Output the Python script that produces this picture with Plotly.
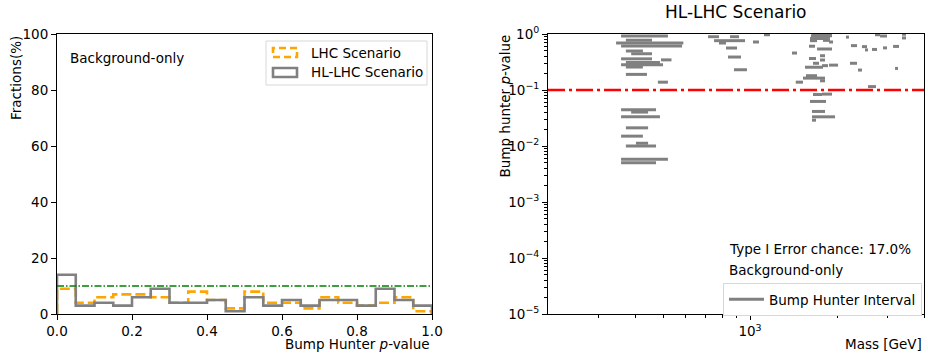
import plotly.graph_objects as go

# ---------------- data ----------------
bin_edges = [round(0.05 * i, 2) for i in range(21)]
lhc_frac = [9, 4, 6, 7, 7, 6, 4, 8, 5, 2, 8, 4, 4, 2, 6, 4, 3, 4, 6, 1]
hllhc_frac = [14, 3, 4, 3, 6, 9, 4, 4, 5, 1, 6, 3, 5, 3, 5, 5, 3, 9, 5, 3]
ref_fraction = 10

# Bump hunter intervals: (mass low, mass high) in GeV and p-value
int_lo = [358, 372, 344, 358, 372, 388, 358, 492, 372, 358, 372, 372, 480,
          358, 388, 358, 372, 358, 403, 372, 358, 358,
          716, 853, 1118, 751, 781, 1024, 826, 839, 880,
          1639, 1625, 1652, 1613, 1613, 1789, 1877, 2148, 2707, 2818, 3357, 3357,
          1600, 1706, 2236, 2440, 2500, 2643, 2886, 3126, 1397, 1747, 1600, 1747,
          1652, 1877, 2218, 1775, 1550, 3176, 2364, 1562, 1525, 1747, 1440, 2561,
          1652, 1775, 1613, 1639, 1639, 1639]
int_hi = [520, 458, 588, 582, 426, 458, 458, 535, 488, 500, 426, 440, 520,
          473, 444, 488, 444, 426, 444, 473, 520, 473,
          781, 916, 1173, 961, 826, 1074, 902, 931, 976,
          1922, 1922, 1892, 1862, 1706, 1892, 1938, 2200, 2818, 2979, 3466, 3466,
          1679, 1922, 2345, 2540, 2561, 2751, 2979, 3278, 1454, 1818, 1692, 1818,
          1733, 2017, 2345, 1862, 1789, 3252, 2440, 1706, 1818, 1818, 1525, 2729,
          1775, 1922, 1832, 1818, 1969, 1692]
int_p = [0.921, 0.775, 0.690, 0.610, 0.497, 0.444, 0.360, 0.345, 0.310, 0.282, 0.257, 0.190, 0.138,
         0.0442, 0.0403, 0.0332, 0.0211, 0.0150, 0.0112, 0.0100, 0.0058, 0.0050,
         0.895, 0.895, 0.97, 0.76, 0.69, 0.72, 0.562, 0.388, 0.230,
         0.99, 0.93, 0.87, 0.83, 0.76, 0.77, 0.72, 0.88, 0.97, 0.92, 0.99, 0.85,
         0.605, 0.54, 0.62, 0.595, 0.52, 0.53, 0.565, 0.60, 0.457, 0.409, 0.365, 0.343,
         0.30, 0.278, 0.30, 0.272, 0.255, 0.243, 0.227, 0.180, 0.163, 0.146, 0.138, 0.115,
         0.083, 0.0845, 0.0625, 0.0414, 0.0332, 0.0289]
p_threshold = 0.1
mass_range = [200, 4000]

y_ticks_left = [0, 20, 40, 60, 80, 100]
x_ticks_left = [0.0, 0.2, 0.4, 0.6, 0.8, 1.0]
y_ticks_right = [1e-5, 1e-4, 1e-3, 1e-2, 1e-1, 1]
y_ticklabels_right = ["10<sup>−5</sup>", "10<sup>−4</sup>", "10<sup>−3</sup>",
                      "10<sup>−2</sup>", "10<sup>−1</sup>", "10<sup>0</sup>"]
legend_labels = ["LHC Scenario", "HL-LHC Scenario"]

# ---------------- figure ----------------
W, H = 928, 361
FONT = "DejaVu Sans"
FS = 13.5
LHC_LINE = dict(color="orange", width=2.6, dash="10px,4px")
HL_LINE = dict(color="gray", width=2.6)
fig = go.Figure()


def px(x):
    return x / W


def py(y):
    return (H - y) / H


def step_xy(edges, vals):
    xs = [edges[0]] + edges[:-1] + [edges[-1], edges[-1]]
    ys = [0] + vals + [vals[-1], 0]
    return xs, ys


xs, ys = step_xy(bin_edges, lhc_frac)
fig.add_trace(go.Scatter(x=xs, y=ys, mode="lines", line_shape="hv", line=LHC_LINE,
                         name=legend_labels[0], xaxis="x", yaxis="y", showlegend=False))
xs, ys = step_xy(bin_edges, hllhc_frac)
fig.add_trace(go.Scatter(x=xs, y=ys, mode="lines", line_shape="hv", line=HL_LINE,
                         name=legend_labels[1], xaxis="x", yaxis="y", showlegend=False))
fig.add_trace(go.Scatter(x=[0, 1], y=[ref_fraction, ref_fraction], mode="lines",
                         line=dict(color="green", width=1.3, dash="7px,2px,1.5px,2px"),
                         showlegend=False, xaxis="x", yaxis="y"))

# intervals
sx, sy = [], []
for lo, hi, p in zip(int_lo, int_hi, int_p):
    sx += [lo, hi, None]
    sy += [p, p, None]
fig.add_trace(go.Scatter(x=sx, y=sy, mode="lines",
                         line=dict(color="gray", width=3),
                         name="Bump Hunter Interval", xaxis="x2", yaxis="y2",
                         legend="legend2"))
fig.add_trace(go.Scatter(x=mass_range, y=[p_threshold, p_threshold], mode="lines",
                         line=dict(color="red", width=2.7, dash="17px,4px,3px,4px"),
                         showlegend=False, xaxis="x2", yaxis="y2"))

ydom = [py(314), py(34)]
axis_common = dict(showline=True, linecolor="black", linewidth=1, mirror=True,
                   ticks="outside", ticklen=5, tickwidth=1, tickcolor="black",
                   showgrid=False, zeroline=False, automargin=False,
                   tickfont=dict(family=FONT, size=FS, color="black"))

minor_mass = [300, 400, 500, 600, 700, 800, 900, 2000, 3000, 4000]
minor_p = [m * 10 ** e for e in range(-5, 0) for m in range(2, 10)]

fig.update_layout(
    width=W, height=H, margin=dict(l=0, r=0, t=0, b=0, autoexpand=False),
    paper_bgcolor="white", plot_bgcolor="white",
    font=dict(family=FONT, size=FS, color="black"),
    xaxis=dict(domain=[px(57), px(432)], range=[0, 1], tickvals=x_ticks_left,
               ticktext=["%.1f" % v for v in x_ticks_left], anchor="y", **axis_common),
    yaxis=dict(domain=ydom, range=[0, 100], tickvals=y_ticks_left, anchor="x", **axis_common),
    xaxis2=dict(domain=[px(548), px(924)], type="log",
                range=[2.30103, 3.60206], tickvals=[1000], ticktext=["10<sup>3</sup>"],
                minor=dict(tickvals=minor_mass, ticks="outside", ticklen=3,
                           tickwidth=0.8, tickcolor="black"),
                anchor="y2", **axis_common),
    yaxis2=dict(domain=ydom, type="log", range=[-5, 0], tickvals=y_ticks_right,
                ticktext=y_ticklabels_right,
                minor=dict(tickvals=minor_p, ticks="outside", ticklen=3,
                           tickwidth=0.8, tickcolor="black"),
                anchor="x2", **axis_common),
    legend2=dict(x=px(723), y=py(283), xanchor="left", yanchor="top",
                 bgcolor="white", bordercolor="#d8d8d8", borderwidth=1,
                 font=dict(family=FONT, size=FS), itemwidth=35),
    showlegend=True,
)

# manual legend for the histogram panel (patch-style icons like the original)
fig.add_shape(type="rect", xref="paper", yref="paper", x0=px(266), x1=px(427),
              y0=py(85), y1=py(41), fillcolor="white", line=dict(color="#d8d8d8", width=1))
fig.add_shape(type="rect", xref="paper", yref="paper", x0=px(273), x1=px(297),
              y0=py(57), y1=py(48), fillcolor="rgba(0,0,0,0)",
              line=dict(color="orange", width=2.6, dash="7px,4px"))
fig.add_shape(type="rect", xref="paper", yref="paper", x0=px(273), x1=px(297),
              y0=py(77), y1=py(68), fillcolor="rgba(0,0,0,0)", line=HL_LINE)

ann = [
    dict(text=legend_labels[0], x=px(309), y=py(52.5), xanchor="left", yanchor="middle"),
    dict(text=legend_labels[1], x=px(309), y=py(72.5), xanchor="left", yanchor="middle"),
    dict(text="Background-only", x=px(68), y=py(58), xanchor="left", yanchor="middle"),
    dict(text="Type I Error chance: 17.0%", x=px(727), y=py(249), xanchor="left", yanchor="middle"),
    dict(text="Background-only", x=px(727), y=py(270), xanchor="left", yanchor="middle"),
    dict(text="HL-LHC Scenario", x=px(736), y=py(12), xanchor="center", yanchor="middle",
         font=dict(family=FONT, size=17, color="black")),
    dict(text="Bump Hunter <i>p</i>-value", x=px(432), y=py(344), xanchor="right", yanchor="middle"),
    dict(text="Mass [GeV]", x=px(924), y=py(344), xanchor="right", yanchor="middle"),
    dict(text="Fractions(%)", x=px(16), y=py(34), xanchor="center", yanchor="top", textangle=-90),
    dict(text="Bump hunter <i>p</i>-value", x=px(504), y=py(33), xanchor="center", yanchor="top", textangle=-90),
]
for a in ann:
    a.setdefault("font", dict(family=FONT, size=FS, color="black"))
    fig.add_annotation(xref="paper", yref="paper", showarrow=False, **a)

fig.write_html("out.html")
